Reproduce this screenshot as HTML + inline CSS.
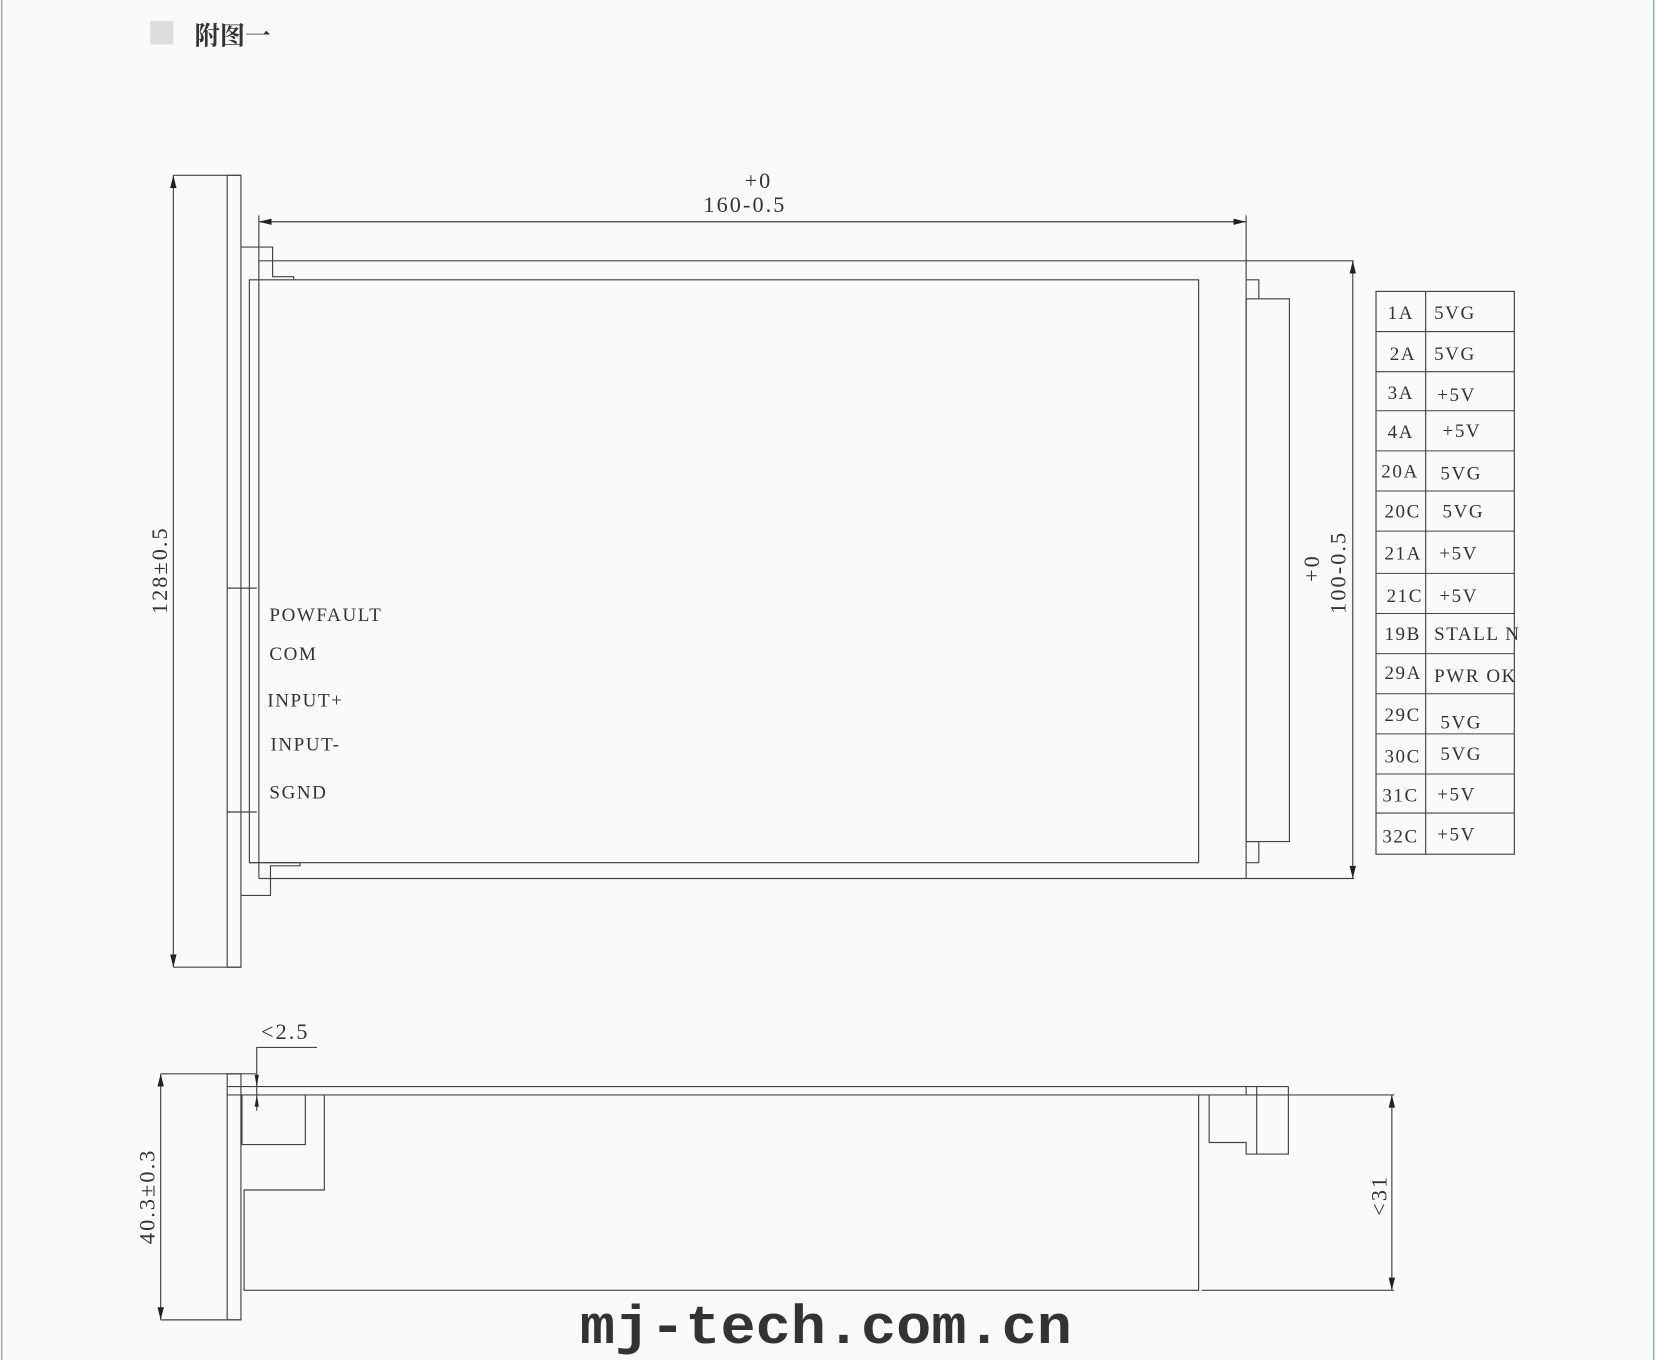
<!DOCTYPE html>
<html><head><meta charset="utf-8"><style>
html,body{margin:0;padding:0;background:#f9fafc;}
svg{display:block}
text{font-family:"Liberation Serif","Noto Serif CJK SC",serif;fill:#333;}
</style></head><body>
<svg width="1656" height="1360" viewBox="0 0 1568 1288" xmlns="http://www.w3.org/2000/svg">
<rect width="1568" height="1288" fill="#f9fafc"/>
<line x1="1.5" y1="0" x2="1.5" y2="1288" stroke="#888" stroke-width="1"/>
<line x1="1566" y1="0" x2="1566" y2="1288" stroke="#888" stroke-width="1"/>
<rect x="142" y="20" width="22" height="22" fill="#ddd"/>
<text x="184" y="42" font-size="24" font-weight="bold" fill="#222" style="font-family:'Noto Serif CJK SC',serif">附图一</text>
<g stroke="#444" stroke-width="1.1" fill="none">
<line x1="164" y1="166" x2="164" y2="916"/>
<line x1="164" y1="166" x2="228" y2="166"/>
<line x1="164" y1="916" x2="228" y2="916"/>
<rect x="215" y="166" width="13" height="750"/>
<line x1="215" y1="557" x2="243" y2="557"/>
<line x1="215" y1="769" x2="243" y2="769"/>
<line x1="245" y1="210" x2="1180" y2="210"/>
<line x1="245" y1="204" x2="245" y2="832"/>
<line x1="1180" y1="204" x2="1180" y2="832"/>
<line x1="245" y1="247" x2="1282" y2="247"/>
<line x1="245" y1="832" x2="1282" y2="832"/>
<polyline points="228,234 258,234 258,262 278,262 278,265"/>
<rect x="236" y="265" width="899" height="552"/>
<polyline points="236,817 284,817 284,820 256,820 256,848 228,848"/>
<polyline points="1180,265 1192,265 1192,283"/>
<rect x="1180" y="283" width="41" height="514"/>
<polyline points="1180,797 1192,797 1192,817 1180,817"/>
<line x1="1281" y1="247" x2="1281" y2="832"/>
<line x1="152" y1="1017" x2="152" y2="1250"/>
<line x1="152" y1="1017" x2="243" y2="1017"/>
<line x1="152" y1="1250" x2="228" y2="1250"/>
<rect x="215" y="1017" width="13" height="233"/>
<line x1="215" y1="1029" x2="1220" y2="1029"/>
<line x1="215" y1="1037" x2="1320" y2="1037"/>
<polyline points="229,1037 229,1084 289,1084 289,1037"/>
<polyline points="307,1037 307,1127 231,1127 231,1222 1135,1222 1135,1037"/>
<line x1="1138" y1="1222" x2="1320" y2="1222"/>
<polyline points="1145,1037 1145,1082 1180,1082 1180,1093 1220,1093 1220,1029"/>
<line x1="1190" y1="1029" x2="1190" y2="1093"/>
<line x1="1180" y1="1029" x2="1180" y2="1037"/>
<line x1="1318" y1="1037" x2="1318" y2="1222"/>
<polyline points="300,992 243,992 243,1052"/>
<rect x="1303" y="276" width="131" height="533"/>
<line x1="1350" y1="276" x2="1350" y2="809"/>
</g>
<g stroke="#444" stroke-width="1">
<line x1="1303" x2="1434" y1="314" y2="314"/><line x1="1303" x2="1434" y1="352" y2="352"/>
<line x1="1303" x2="1434" y1="389" y2="389"/><line x1="1303" x2="1434" y1="427" y2="427"/>
<line x1="1303" x2="1434" y1="465" y2="465"/><line x1="1303" x2="1434" y1="503" y2="503"/>
<line x1="1303" x2="1434" y1="543" y2="543"/><line x1="1303" x2="1434" y1="581" y2="581"/>
<line x1="1303" x2="1434" y1="619" y2="619"/><line x1="1303" x2="1434" y1="657" y2="657"/>
<line x1="1303" x2="1434" y1="695" y2="695"/><line x1="1303" x2="1434" y1="733" y2="733"/>
<line x1="1303" x2="1434" y1="770" y2="770"/>
</g>
<g fill="#222">
<polygon points="164,166 161,178 167,178"/><polygon points="164,916 161,904 167,904"/>
<polygon points="245,210 257,207 257,213"/><polygon points="1180,210 1168,207 1168,213"/>
<polygon points="1281,247 1278,259 1284,259"/><polygon points="1281,832 1278,820 1284,820"/>
<polygon points="152,1017 149,1029 155,1029"/><polygon points="152,1250 149,1238 155,1238"/>
<polygon points="1318,1037 1315,1049 1321,1049"/><polygon points="1318,1222 1315,1210 1321,1210"/>
<polygon points="243,1029 241,1018 245,1018"/><polygon points="243,1037 241,1048 245,1048"/>
</g>
<g font-size="21" letter-spacing="2">
<text x="705" y="178">+0</text>
<text x="666" y="201">160-0.5</text>
<text transform="translate(158,540) rotate(-90)" text-anchor="middle">128±0.5</text>
<text transform="translate(1249,538) rotate(-90)" text-anchor="middle">+0</text>
<text transform="translate(1274,542) rotate(-90)" text-anchor="middle">100-0.5</text>
<text transform="translate(146,1133) rotate(-90)" text-anchor="middle">40.3±0.3</text>
<text transform="translate(1313,1132) rotate(-90)" text-anchor="middle">&lt;31</text>
<text x="247" y="984">&lt;2.5</text>
</g>
<g font-size="18" letter-spacing="1.5">
<text x="255" y="588">POWFAULT</text>
<text x="255" y="625">COM</text>
<text x="253" y="669">INPUT+</text>
<text x="256" y="711">INPUT-</text>
<text x="255" y="756">SGND</text>
<text x="1314" y="302">1A</text><text x="1358" y="302">5VG</text>
<text x="1316" y="341">2A</text><text x="1358" y="341">5VG</text>
<text x="1314" y="378">3A</text><text x="1361" y="380">+5V</text>
<text x="1314" y="415">4A</text><text x="1366" y="414">+5V</text>
<text x="1308" y="452">20A</text><text x="1364" y="454">5VG</text>
<text x="1311" y="490">20C</text><text x="1366" y="490">5VG</text>
<text x="1311" y="530">21A</text><text x="1363" y="530">+5V</text>
<text x="1313" y="570">21C</text><text x="1363" y="570">+5V</text>
<text x="1311" y="606">19B</text><text x="1358" y="606">STALL N</text>
<text x="1311" y="643">29A</text><text x="1358" y="646">PWR OK</text>
<text x="1311" y="683">29C</text><text x="1364" y="690">5VG</text>
<text x="1311" y="722">30C</text><text x="1364" y="720">5VG</text>
<text x="1309" y="759">31C</text><text x="1361" y="758">+5V</text>
<text x="1309" y="798">32C</text><text x="1361" y="796">+5V</text>
</g>
<text x="782" y="1272" text-anchor="middle" font-size="52" font-weight="bold" style="font-family:'Liberation Mono',monospace" fill="#111" textLength="466" lengthAdjust="spacingAndGlyphs">mj-tech.com.cn</text>
</svg>
</body></html>
